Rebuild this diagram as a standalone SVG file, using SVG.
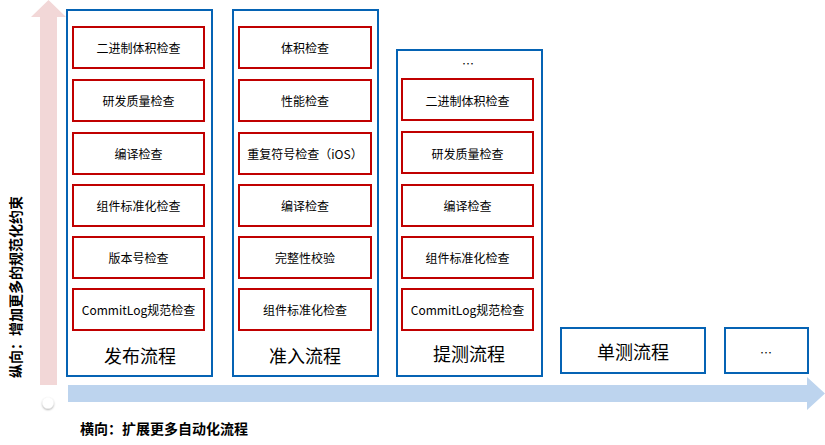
<svg xmlns="http://www.w3.org/2000/svg" width="825" height="445" viewBox="0 0 825 445">
<style>
.col{fill:#fff;stroke:#0563B4;stroke-width:2}
.chk{fill:#fff;stroke:#C00000;stroke-width:2}
.t{font-family:"Noto Sans CJK SC","Liberation Sans",sans-serif;font-size:12px;fill:#000;text-anchor:middle;dominant-baseline:central}
.h{font-family:"Noto Sans CJK SC","Liberation Sans",sans-serif;font-size:18px;fill:#000;text-anchor:middle;dominant-baseline:central}
.ax{font-family:"Noto Sans CJK SC","Liberation Sans",sans-serif;font-size:14px;font-weight:bold;fill:#000}
</style>
<defs>
<filter id="sh" x="-50%" y="-50%" width="200%" height="200%"><feDropShadow dx="0" dy="1" stdDeviation="1" flood-color="#000" flood-opacity="0.4"/></filter>
</defs>
<g id="connectors">
<polygon points="40,385 40,17 31,17 48.5,0 66,17 57,17 57,385" fill="#F2D7D7"/>
<polygon points="68,385 807,385 807,377 825,393.5 807,410 807,402 68,402" fill="#BDD4EE"/>
<circle cx="48" cy="403" r="5.5" fill="#fff" filter="url(#sh)"/>
</g>
<text class="ax" transform="translate(15,287) rotate(-90)" text-anchor="middle" dominant-baseline="central">纵向：增加更多的规范化约束</text>
<text class="ax" x="80" y="428" dominant-baseline="central">横向：扩展更多自动化流程</text>
<g id="col1">
<rect class="col" x="67" y="10" width="145" height="366"/>
<text class="h" x="140" y="355">发布流程</text>
</g>
<g id="c1n1"><rect class="chk" x="73" y="27" width="131" height="41"/><text class="t" x="138.5" y="47.5">二进制体积检查</text></g>
<g id="c1n2"><rect class="chk" x="73" y="80" width="131" height="41"/><text class="t" x="138.5" y="100.5">研发质量检查</text></g>
<g id="c1n3"><rect class="chk" x="73" y="133" width="131" height="41"/><text class="t" x="138.5" y="153.5">编译检查</text></g>
<g id="c1n4"><rect class="chk" x="73" y="185" width="131" height="41"/><text class="t" x="138.5" y="205.5">组件标准化检查</text></g>
<g id="c1n5"><rect class="chk" x="73" y="237" width="131" height="41"/><text class="t" x="138.5" y="257.5">版本号检查</text></g>
<g id="c1n6"><rect class="chk" x="73" y="289" width="131" height="41"/><text class="t" x="138.5" y="309.5">CommitLog规范检查</text></g>
<g id="col2">
<rect class="col" x="233" y="10" width="145" height="366"/>
<text class="h" x="305" y="355">准入流程</text>
</g>
<g id="c2n1"><rect class="chk" x="239" y="27" width="132" height="41"/><text class="t" x="305" y="47.5">体积检查</text></g>
<g id="c2n2"><rect class="chk" x="239" y="80" width="132" height="41"/><text class="t" x="305" y="100.5">性能检查</text></g>
<g id="c2n3"><rect class="chk" x="239" y="133" width="132" height="41"/><text class="t" x="305" y="153.5">重复符号检查（iOS）</text></g>
<g id="c2n4"><rect class="chk" x="239" y="185" width="132" height="41"/><text class="t" x="305" y="205.5">编译检查</text></g>
<g id="c2n5"><rect class="chk" x="239" y="237" width="132" height="41"/><text class="t" x="305" y="257.5">完整性校验</text></g>
<g id="c2n6"><rect class="chk" x="239" y="289" width="132" height="41"/><text class="t" x="305" y="309.5">组件标准化检查</text></g>
<g id="col3">
<rect class="col" x="397" y="50" width="145" height="326"/>
<text class="t" x="468" y="63">…</text>
<text class="h" x="469" y="353">提测流程</text>
</g>
<g id="c3n1"><rect class="chk" x="402" y="79" width="131" height="41"/><text class="t" x="467.5" y="100">二进制体积检查</text></g>
<g id="c3n2"><rect class="chk" x="402" y="132" width="131" height="41"/><text class="t" x="467.5" y="153">研发质量检查</text></g>
<g id="c3n3"><rect class="chk" x="402" y="185" width="131" height="41"/><text class="t" x="467.5" y="205.5">编译检查</text></g>
<g id="c3n4"><rect class="chk" x="402" y="237" width="131" height="41"/><text class="t" x="467.5" y="257.5">组件标准化检查</text></g>
<g id="c3n5"><rect class="chk" x="402" y="289" width="131" height="41"/><text class="t" x="467.5" y="309.5">CommitLog规范检查</text></g>
<g id="col4"><rect class="col" x="561" y="328" width="144" height="45"/><text class="h" x="633" y="351">单测流程</text></g>
<g id="col5"><rect class="col" x="725" y="328" width="83" height="45"/><text class="t" x="766" y="352">…</text></g>
</svg>
